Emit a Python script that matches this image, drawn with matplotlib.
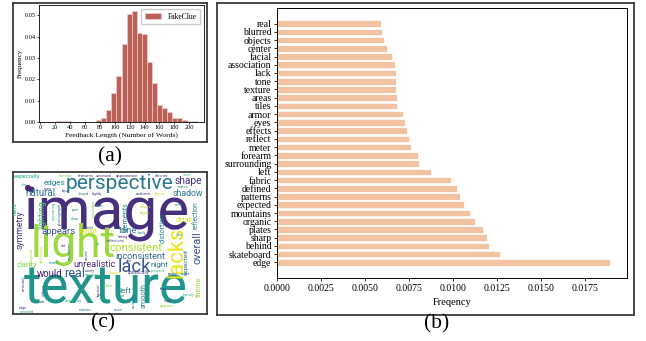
import numpy as np
import matplotlib
matplotlib.use('Agg')
import matplotlib.pyplot as plt
from matplotlib.textpath import TextPath
from matplotlib.font_manager import FontProperties

# ---- data ----
# (a) feedback length histogram (30 bins, density)
bin_edges = np.linspace(8, 210, 31)
bin_heights = [0.0, 0.0, 0.0006, 0.0003, 0.0003, 0.0, 0.0, 0.0, 0.0, 0.0001,
               0.0008, 0.0020, 0.0055, 0.0137, 0.0215, 0.0364, 0.0505, 0.0523, 0.0419, 0.0414,
               0.0280, 0.0183, 0.0081, 0.0067, 0.0045, 0.0020, 0.0017, 0.0008, 0.0006, 0.0003]

# (b) word frequencies, bottom bar first
word_labels = ['edge', 'skateboard', 'behind', 'sharp', 'plates', 'organic', 'mountains',
               'expected', 'patterns', 'defined', 'fabric', 'left', 'surrounding', 'forearm',
               'meter', 'reflect', 'effects', 'eyes', 'armor', 'tiles', 'areas', 'texture',
               'tone', 'lack', 'association', 'facial', 'center', 'objects', 'blurred', 'real']
word_freqs = [0.01893, 0.01268, 0.01206, 0.01194, 0.01172, 0.01124, 0.01094,
              0.01060, 0.01041, 0.01024, 0.00990, 0.00874, 0.00805, 0.00801,
              0.00762, 0.00748, 0.00737, 0.00729, 0.00714, 0.00684, 0.00684, 0.00678,
              0.00678, 0.00673, 0.00671, 0.00654, 0.00627, 0.00610, 0.00599, 0.00593]

# (c) word cloud tokens
cloud_words = ['image', 'texture', 'light', 'perspective', 'lacks', 'lack', 'consistent',
               'inconsistent', 'overall', 'shape', 'shadow', 'natural', 'edges', 'appears',
               'symmetry', 'lighting', 'unrealistic', 'would', 'real', 'clarity', 'night',
               'elements', 'distortion', 'detail', 'reflection', 'tone', 'expected', 'theme',
               'smooth', 'left', 'layout', '\u2022',
               'especially', 'humans', 'features', 'unnatural', 'appearance', 'distorted',
               'seen', 'fur', 'sharp', 'facial', 'found', 'slightly', 'match', 'uniform',
               'objects', 'scene', 'shapes', 'depth', 'eyes', 'seem', 'clear', 'content',
               'body', 'seems', 'lacking', 'film', 'reflections', 'due', 'yet', 'details',
               'skin', 'present', 'overly', 'vanishing', 'blurred', 'unnaturally', 'person',
               'square', 'face', 'hair', 'false', 'typically', 'align', 'appear', 'shadows',
               'side', 'edge', 'realistic', 'compared', 'creature',
               'hand', 'appearing', 'photograph', 'noticeable', 'background', 'deficiency',
               'environment', 'around', 'particularly', 'without', 'typical', 'surfaces']

# ---- layout of the word cloud (pixel coords): x, y, ink width, rotated, viridis tone ----
cloud_layout = {
    'image': (107, 229, 160, 0, 0.14), 'texture': (106, 303, 162, 0, 0.52),
    'light': (73, 257, 80, 0, 0.85), 'perspective': (119.5, 189, 105, 0, 0.40),
    'lack': (134, 272, 32, 0, 0.27), 'consistent': (136, 251, 52, 0, 0.88),
    'inconsistent': (140.5, 259, 49, 0, 0.33), 'shape': (188.5, 184, 27, 0, 0.13),
    'shadow': (188, 196, 30, 0, 0.40), 'natural': (40.5, 196.5, 29, 0, 0.38),
    'edges': (54.5, 185, 21, 0, 0.45), 'appears': (58.5, 234, 33, 0, 0.25),
    'unrealistic': (94.5, 267, 41, 0, 0.12), 'would': (49.5, 277, 25, 0, 0.08),
    'real': (74.5, 277, 19, 0, 0.28), 'clarity': (27, 267, 20, 0, 0.80),
    'night': (159.5, 267, 17, 0, 0.42), 'detail': (184, 222, 16, 0, 0.92),
    'tone': (127, 233, 18, 0, 0.38), 'layout': (88.5, 233, 17, 0, 0.95),
    'left': (125.5, 293, 11, 0, 0.45),
    'especially': (27, 178, 26, 0, 0.60), 'humans': (66, 177, 13, 0, 0.80),
    'features': (86, 177, 16, 0, 0.25), 'unnatural': (104, 177, 16, 0, 0.20),
    'appearance': (127, 177, 22, 0, 0.20), 'distorted': (161, 177, 13, 0, 0.25),
    'seen': (187, 176, 8, 0, 0.70), 'fur': (24, 186, 5, 0, 0.60),
    'sharp': (48, 190, 8, 0, 0.15), 'facial': (66, 192, 8, 0, 0.20),
    'found': (84, 195, 10, 0, 0.45), 'slightly': (97, 195, 10, 0, 0.15),
    'match': (183, 188, 10, 0, 0.50), 'uniform': (143, 195, 15, 0, 0.20),
    'objects': (160, 195, 11, 0, 0.90), 'scene': (179, 206, 8, 0, 0.50),
    'shapes': (145, 208, 11, 0, 0.90), 'depth': (145, 214, 10, 0, 0.90),
    'eyes': (75, 211, 7, 0, 0.50), 'seem': (100, 207, 7, 0, 0.50),
    'clear': (75, 220, 8, 0, 0.45), 'content': (88, 229, 12, 0, 0.30),
    'body': (142, 234, 8, 0, 0.40), 'seems': (175, 230, 9, 0, 0.15),
    'lacking': (123, 238, 10, 0, 0.15), 'film': (180, 236, 6, 0, 0.60),
    'reflections': (116, 242, 17, 0, 0.20), 'due': (64, 247, 5, 0, 0.15),
    'yet': (98, 245, 4, 0, 0.70), 'details': (54, 264, 10, 0, 0.50),
    'skin': (129, 262, 6, 0, 0.20), 'present': (158, 272, 14, 0, 0.70),
    'overly': (90, 272, 10, 0, 0.15), 'vanishing': (92, 276, 14, 0, 0.70),
    'blurred': (115, 274, 11, 0, 0.92), 'unnaturally': (139, 274, 22, 0, 0.20),
    'person': (173, 275, 10, 0, 0.20), 'square': (186, 275, 9, 0, 0.40),
    'face': (110, 287, 7, 0, 0.80), 'hair': (121, 297, 7, 0, 0.50),
    'false': (163, 290, 7, 0, 0.20), 'typically': (189, 296, 12, 0, 0.65),
    'align': (168, 302, 7, 0, 0.20), 'appear': (166, 307, 13, 0, 0.85),
    'shadows': (73, 302, 17, 0, 0.65), 'side': (42, 303, 6, 0, 0.20),
    'edge': (23, 309, 8, 0, 0.20), 'realistic': (85, 311, 13, 0, 0.45),
    'compared': (27, 313, 14, 0, 0.65), 'creature': (118, 311, 9, 0, 0.40),
    # centred words (rotated ones and the dot): x, y are the centre
    '\u2022': (30, 185, 6, 1, 0.10),
    'lacks': (177, 252, 49, 1, 0.97), 'overall': (197, 248, 31, 1, 0.27),
    'symmetry': (20, 230, 38, 1, 0.15), 'lighting': (42, 215, 28, 1, 0.72),
    'elements': (126, 217, 29, 1, 0.45), 'distortion': (163, 228, 29, 1, 0.45),
    'reflection': (196, 215, 27, 1, 0.45), 'expected': (186, 262, 25, 1, 0.35),
    'theme': (199, 287, 20, 1, 0.85), 'smooth': (144, 295, 24, 1, 0.45),
    'hand': (15, 209, 12, 1, 0.65), 'appearing': (54, 211, 18, 1, 0.70),
    'photograph': (60, 214, 22, 1, 0.40), 'noticeable': (94, 208, 17, 1, 0.80),
    'background': (32, 256, 17, 1, 0.85), 'deficiency': (42, 254, 18, 1, 0.90),
    'environment': (70, 251, 18, 1, 0.35), 'around': (87, 255, 10, 1, 0.30),
    'particularly': (24, 283, 15, 1, 0.20), 'without': (44, 290, 12, 1, 0.30),
    'typical': (99, 291, 12, 1, 0.20), 'surfaces': (134, 302, 12, 1, 0.40),
}

W, H = 646, 341
plt.rcParams['font.family'] = 'serif'
plt.rcParams['font.serif'] = ['Liberation Serif', 'DejaVu Serif']


def px_rect(x0, y0, x1, y1):
    return [x0 / W, 1 - y1 / H, (x1 - x0) / W, (y1 - y0) / H]


def frame(fig, x0, y0, x1, y1):
    fa = fig.add_axes(px_rect(x0, y0, x1, y1), zorder=0)
    fa.set_xticks([])
    fa.set_yticks([])
    for s in fa.spines.values():
        s.set_linewidth(1.3)
        s.set_color('#3a3a3a')
    return fa


fig = plt.figure(figsize=(W / 100, H / 100), dpi=100)

# ---- (a) histogram ----
frame(fig, 13, 3, 207, 142)
ax_a = fig.add_axes(px_rect(39, 5, 204, 122), zorder=1)
ax_a.hist(bin_edges[:-1], bins=bin_edges, weights=bin_heights, color='#bc5f56',
          edgecolor='#f0d8d4', linewidth=0.4, label='FakeClue')
ax_a.set_xlim(-2, 220)
ax_a.set_ylim(0, 0.0549)
ax_a.set_xticks(np.arange(0, 201, 20))
ax_a.set_yticks(np.arange(0, 0.051, 0.01))
ax_a.yaxis.set_major_formatter('{x:.2f}')
ax_a.tick_params(labelsize=4.6, length=1.5, width=0.5, pad=1)
for s in ax_a.spines.values():
    s.set_linewidth(0.6)
ax_a.set_xlabel('Feedback Length (Number of Words)', fontsize=5.4, labelpad=1)
ax_a.set_ylabel('Frequency', fontsize=5, labelpad=1)
ax_a.legend(loc='upper right', fontsize=5.5, handlelength=2.1, borderpad=0.5,
            edgecolor='#cccccc', framealpha=1)

# ---- (b) horizontal bars ----
frame(fig, 217, 3, 634, 315)
ax_b = fig.add_axes(px_rect(277, 8, 627, 278), zorder=1)
ypos = np.arange(len(word_labels))
ax_b.barh(ypos, word_freqs, height=0.8, color='#f2c3a2', edgecolor='white', linewidth=0.5)
ax_b.set_yticks(ypos, word_labels)
ax_b.set_xticks(np.arange(0, 0.0176, 0.0025))
ax_b.xaxis.set_major_formatter('{x:.4f}')
ax_b.tick_params(labelsize=7, length=2.5, width=0.6, pad=1.5)
for s in ax_b.spines.values():
    s.set_linewidth(0.7)
ax_b.set_xlabel('Freqency', fontsize=7.5)

# ---- (c) word cloud ----
ax_c = fig.add_axes(px_rect(13, 172, 207, 314), zorder=1)
ax_c.set_xlim(13, 207)
ax_c.set_ylim(314, 172)
ax_c.set_xticks([])
ax_c.set_yticks([])
for s in ax_c.spines.values():
    s.set_linewidth(1.3)
    s.set_color('#3a3a3a')

cloud_font = FontProperties(family=['Roboto', 'DejaVu Sans'])
cmap = plt.get_cmap('viridis')
for word in cloud_words:
    x, y, width, centred, tone = cloud_layout[word]
    ink = TextPath((0, 0), word, size=100, prop=cloud_font).get_extents().width
    fs = 100 * width * 0.72 / ink
    if centred:
        ax_c.text(x, y, word, fontsize=fs, rotation=90, ha='center', va='center',
                  color=cmap(tone), fontproperties=cloud_font, clip_on=True)
    else:
        ax_c.text(x, y, word, fontsize=fs, ha='center', va='baseline',
                  color=cmap(tone), fontproperties=cloud_font, clip_on=True)

# panel letters
fig.text(110 / W, 1 - 157 / H, '(a)', fontsize=15.5, ha='center', va='center')
fig.text(103 / W, 1 - 323 / H, '(c)', fontsize=15.5, ha='center', va='center')
fig.text(437 / W, 1 - 324 / H, '(b)', fontsize=15.5, ha='center', va='center')

fig.savefig('out.png', dpi=100)
plt.close(fig)
